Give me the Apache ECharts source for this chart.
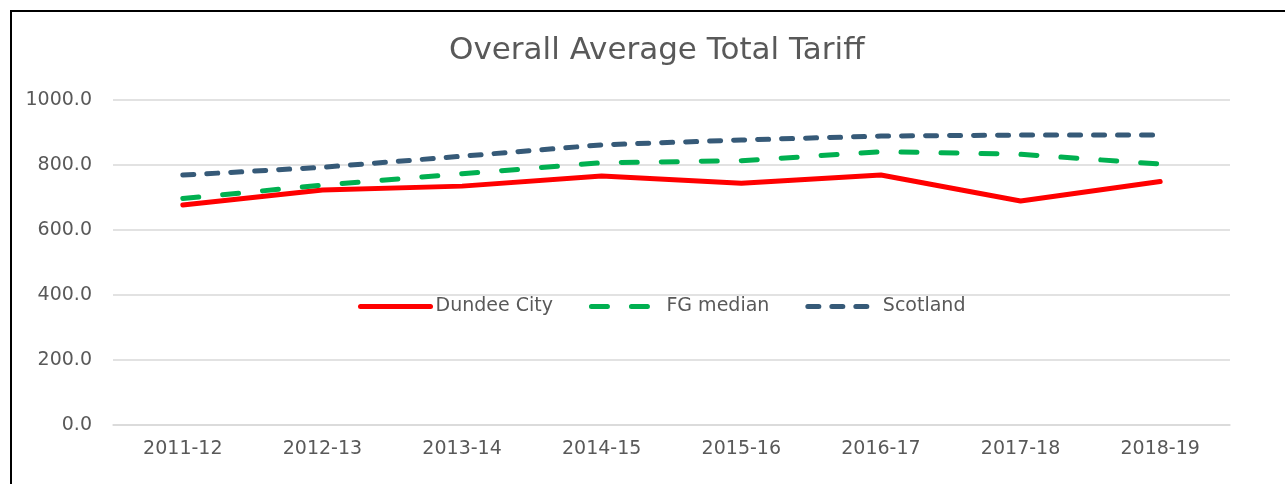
<!DOCTYPE html>
<html>
<head>
<meta charset="utf-8">
<script src="https://cdn.jsdelivr.net/npm/echarts@6/dist/echarts.min.js"></script>
<style>
  html, body { margin: 0; padding: 0; background: #fff; }
  #chart { width: 1285px; height: 484px; }
</style>
</head>
<body>
<div id="chart"></div>
<script>
// 数据
const years = ['2011-12', '2012-13', '2013-14', '2014-15', '2015-16', '2016-17', '2017-18', '2018-19']
const dundeeCity = [677, 723, 735, 766, 744, 769, 689, 749]
const fgMedian = [697, 738, 773, 807, 813, 841, 833, 803]
const scotland = [769, 793, 827, 862, 877, 889, 892, 892]

const textColor = '#595959'
const fontFamily = '"DejaVu Sans", sans-serif'

const chart = echarts.init(document.getElementById('chart'))
const option = {
  animation: false,
  backgroundColor: '#fff',
  title: {
    text: 'Overall Average Total Tariff',
    left: 444,
    top: 30,
    textStyle: { color: textColor, fontSize: 31, fontWeight: 'normal', fontFamily }
  },
  // 外框
  graphic: [{
    type: 'rect',
    shape: { x: 11, y: 11, width: 1300, height: 500 },
    style: { fill: 'none', stroke: '#000', lineWidth: 2 }
  }],
  legend: {
    top: 292,
    left: 353,
    itemWidth: 70,
    itemHeight: 20,
    itemGap: 36,
    itemStyle: { opacity: 0 },
    lineStyle: { width: 5 },
    textStyle: { color: textColor, fontSize: 19, fontFamily },
    data: ['Dundee City', 'FG median', 'Scotland']
  },
  grid: { left: 113, right: 55, top: 100, bottom: 59 },
  xAxis: {
    type: 'category',
    data: years,
    axisLine: { lineStyle: { color: '#d9d9d9', width: 1.5 } },
    axisTick: { show: false },
    axisLabel: { color: textColor, fontSize: 19, fontFamily, margin: 15 }
  },
  yAxis: {
    type: 'value',
    min: 0,
    max: 1000,
    interval: 200,
    axisLabel: {
      color: textColor, fontSize: 19, fontFamily, margin: 21,
      formatter: v => v.toFixed(1)
    },
    splitLine: { lineStyle: { color: '#d9d9d9', width: 1.5 } }
  },
  series: [
    {
      name: 'Dundee City',
      type: 'line',
      data: dundeeCity,
      symbol: 'none',
      color: '#ff0000',
      lineStyle: { width: 5, cap: 'round', join: 'round' }
    },
    {
      name: 'FG median',
      type: 'line',
      data: fgMedian,
      symbol: 'none',
      color: '#00b050',
      lineStyle: { width: 5, type: [16, 24], cap: 'round' }
    },
    {
      name: 'Scotland',
      type: 'line',
      data: scotland,
      symbol: 'none',
      color: '#365a78',
      lineStyle: { width: 5, type: [11, 13], cap: 'round' }
    }
  ]
}
chart.setOption(option)
</script>
</body>
</html>
